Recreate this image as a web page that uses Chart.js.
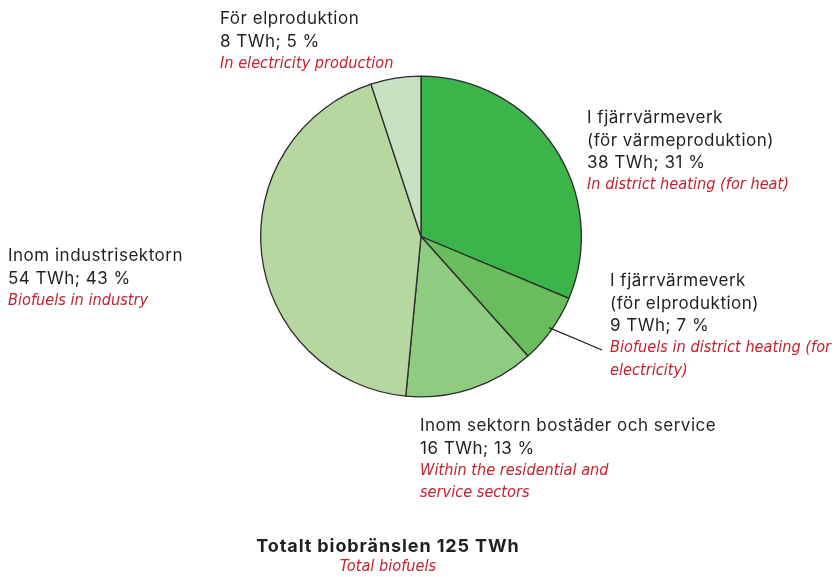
<!DOCTYPE html>
<html>
<head>
<meta charset="utf-8">
<script src="https://cdn.jsdelivr.net/npm/chart.js@4"></script>
<style>
  html, body { margin: 0; padding: 0; background: #fff; }
  #wrap { width: 834px; height: 577px; position: relative; }
</style>
</head>
<body>
<div id="wrap"><canvas id="bioChart" width="834" height="577"></canvas></div>
<script>
// biofuel use by sector, share of total (%)
const sectors = ['I fjärrvärmeverk (för värmeproduktion)', 'I fjärrvärmeverk (för elproduktion)',
  'Inom sektorn bostäder och service', 'Inom industrisektorn', 'För elproduktion'];
const shares = [31, 7, 13, 43, 5];
const twh = [38, 9, 16, 54, 8];
const sliceColors = ['#3bb54a', '#6abd5d', '#8fcb80', '#b6d7a0', '#c8e2c1'];

// label texts: swedish lines (dark) + english lines (red)
const svLines = [
  ['I fjärrvärmeverk', '(för värmeproduktion)', '38 TWh; 31 %'],
  ['I fjärrvärmeverk', '(för elproduktion)', '9 TWh; 7 %'],
  ['Inom sektorn bostäder och service', '16 TWh; 13 %'],
  ['Inom industrisektorn', '54 TWh; 43 %'],
  ['För elproduktion', '8 TWh; 5 %']
];
const enLines = [
  ['In district heating (for heat)'],
  ['Biofuels in district heating (for', 'electricity)'],
  ['Within the residential and', 'service sectors'],
  ['Biofuels in industry'],
  ['In electricity production']
];
const labelPos = [[587, 118], [610, 281], [420, 426], [8, 256], [220, 19]];
const totalTitle = 'Totalt biobränslen 125 TWh';
const totalSub = 'Total biofuels';

const darkFont = '17px Inter, Roboto, sans-serif';
const redFont = 'italic 16.2px "Liberation Sans Narrow", "DejaVu Sans Condensed", sans-serif';
const lineH = 22.4;

const labelsPlugin = {
  id: 'sectorLabels',
  afterDraw(chart) {
    const ctx = chart.ctx;
    ctx.save();
    ctx.textBaseline = 'middle';
    ctx.textAlign = 'left';
    labelPos.forEach((p, i) => {
      let y = p[1];
      ctx.font = darkFont;
      ctx.letterSpacing = '0.5px';
      ctx.fillStyle = '#231f20';
      svLines[i].forEach(t => { ctx.fillText(t, p[0], y); y += lineH; });
      ctx.font = redFont;
      ctx.letterSpacing = '0px';
      ctx.fillStyle = '#c8202e';
      enLines[i].forEach(t => { ctx.fillText(t, p[0], y); y += lineH; });
    });

    // leader line for the small district heating slice
    const arc = chart.getDatasetMeta(0).data[1];
    const a = (arc.startAngle + arc.endAngle) / 2;
    const r = arc.outerRadius * 0.98;
    ctx.beginPath();
    ctx.moveTo(arc.x + Math.cos(a) * r, arc.y + Math.sin(a) * r);
    ctx.lineTo(602, 350);
    ctx.strokeStyle = '#231f20';
    ctx.lineWidth = 1.2;
    ctx.stroke();

    // total
    ctx.textAlign = 'center';
    ctx.font = 'bold 18px Inter, Roboto, sans-serif';
    ctx.letterSpacing = '0.9px';
    ctx.fillStyle = '#231f20';
    ctx.fillText(totalTitle, 388, 547);
    ctx.font = redFont;
    ctx.letterSpacing = '0px';
    ctx.fillStyle = '#c8202e';
    ctx.fillText(totalSub, 388, 567);
    ctx.restore();
  }
};

new Chart(document.getElementById('bioChart').getContext('2d'), {
  type: 'pie',
  data: {
    labels: sectors,
    datasets: [{
      data: shares,
      backgroundColor: sliceColors,
      borderColor: '#2b2b2b',
      borderWidth: 1.3
    }]
  },
  options: {
    responsive: false,
    animation: false,
    layout: { padding: { left: 260, right: 252, top: 75, bottom: 179 } },
    plugins: {
      legend: { display: false },
      tooltip: { enabled: false }
    }
  },
  plugins: [labelsPlugin]
});
</script>
</body>
</html>
